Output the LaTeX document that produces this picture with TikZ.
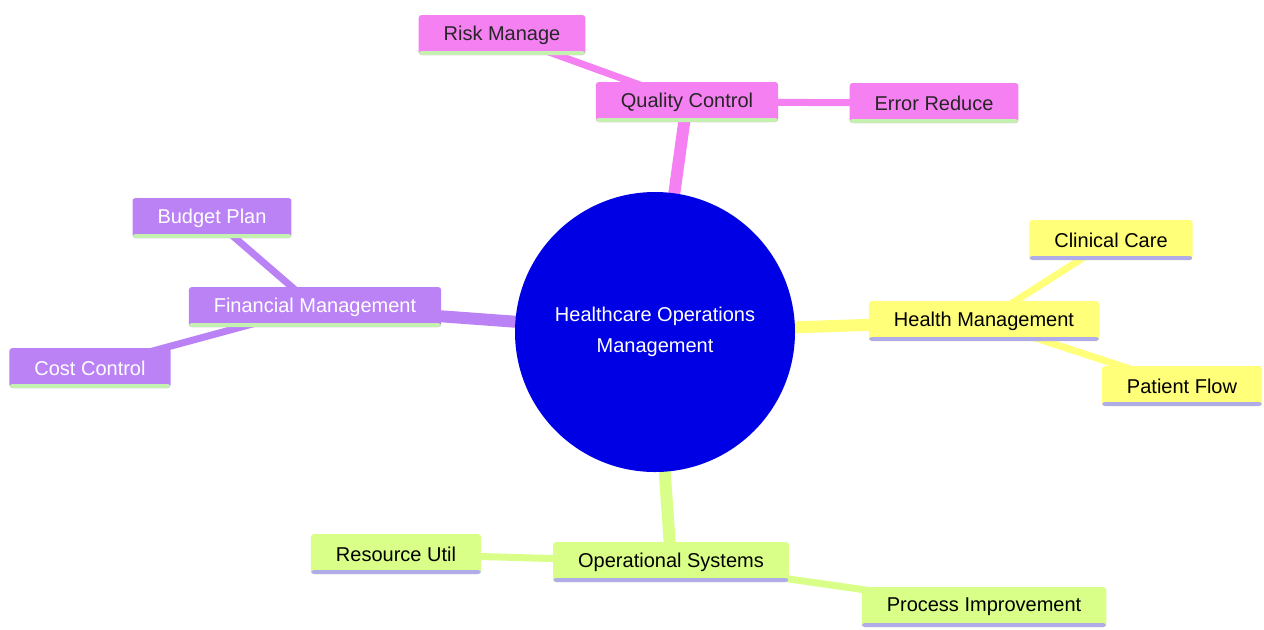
\documentclass[tikz,border=0pt]{standalone}
\usepackage{fontspec}
\setmainfont{Liberation Sans}
\usetikzlibrary{backgrounds}
\definecolor{rootblue}{RGB}{0,0,228}
\definecolor{qualpink}{RGB}{245,128,242}
\definecolor{finpurple}{RGB}{186,130,245}
\definecolor{healthyellow}{RGB}{255,255,122}
\definecolor{opslime}{RGB}{218,255,136}
\definecolor{greenline}{RGB}{196,240,176}
\definecolor{lavline}{RGB}{176,172,232}
\tikzset{
  box/.style={rounded corners=1.5pt, minimum height=20pt, inner xsep=12.5pt, inner ysep=0pt,
    font=\fontsize{10}{12}\selectfont,
    path picture={\fill[#1] ([yshift=2pt]path picture bounding box.south west) rectangle (path picture bounding box.south east);}},
  pinkbox/.style={box=greenline, fill=qualpink, text=black!85},
  purplebox/.style={box=greenline, fill=finpurple, text=white},
  yellowbox/.style={box=lavline, fill=healthyellow, text=black},
  limebox/.style={box=lavline, fill=opslime, text=black},
  trunk/.style={line width=6pt},
  twig/.style={line width=3.5pt}
}
\begin{document}
\begin{tikzpicture}[x=0.5pt,y=-0.5pt]
    \useasboundingbox (0,0) rectangle (1264,629);
    % root
    \node [circle, fill=rootblue, minimum size=140pt, inner sep=0pt, text=white, align=center,
        font=\fontsize{10}{15.5}\selectfont] (root) at (655,332) {Healthcare Operations\\Management};
    % quality control
    \node [pinkbox] (qc) at (687,102) {Quality Control};
    \node [pinkbox] (risk) at (502,35) {Risk Manage};
    \node [pinkbox] (error) at (934,103) {Error Reduce};
    % financial management
    \node [purplebox] (fin) at (315,307) {Financial Management};
    \node [purplebox] (budget) at (212,218) {Budget Plan};
    \node [purplebox] (cost) at (90,368) {Cost Control};
    % health management
    \node [yellowbox] (health) at (984,321) {Health Management};
    \node [yellowbox] (clinical) at (1111,240) {Clinical Care};
    \node [yellowbox] (patient) at (1182,386) {Patient Flow};
    % operational systems
    \node [limebox] (ops) at (671,562) {Operational Systems};
    \node [limebox] (resource) at (396,554) {Resource Util};
    \node [limebox] (process) at (984,607) {Process Improvement};
    \begin{scope}[on background layer]
        \draw [trunk, qualpink] (root.center) -- (qc.center);
        \draw [twig, qualpink] (qc.center) -- (risk.center);
        \draw [twig, qualpink] (qc.center) -- (error.center);
        \draw [trunk, finpurple] (root.center) -- (fin.center);
        \draw [twig, finpurple] (fin.center) -- (budget.center);
        \draw [twig, finpurple] (fin.center) -- (cost.center);
        \draw [trunk, healthyellow] (root.center) -- (health.center);
        \draw [twig, healthyellow] (health.center) -- (clinical.center);
        \draw [twig, healthyellow] (health.center) -- (patient.center);
        \draw [trunk, opslime] (root.center) -- (ops.center);
        \draw [twig, opslime] (ops.center) -- (resource.center);
        \draw [twig, opslime] (ops.center) -- (process.center);
    \end{scope}
\end{tikzpicture}
\end{document}
